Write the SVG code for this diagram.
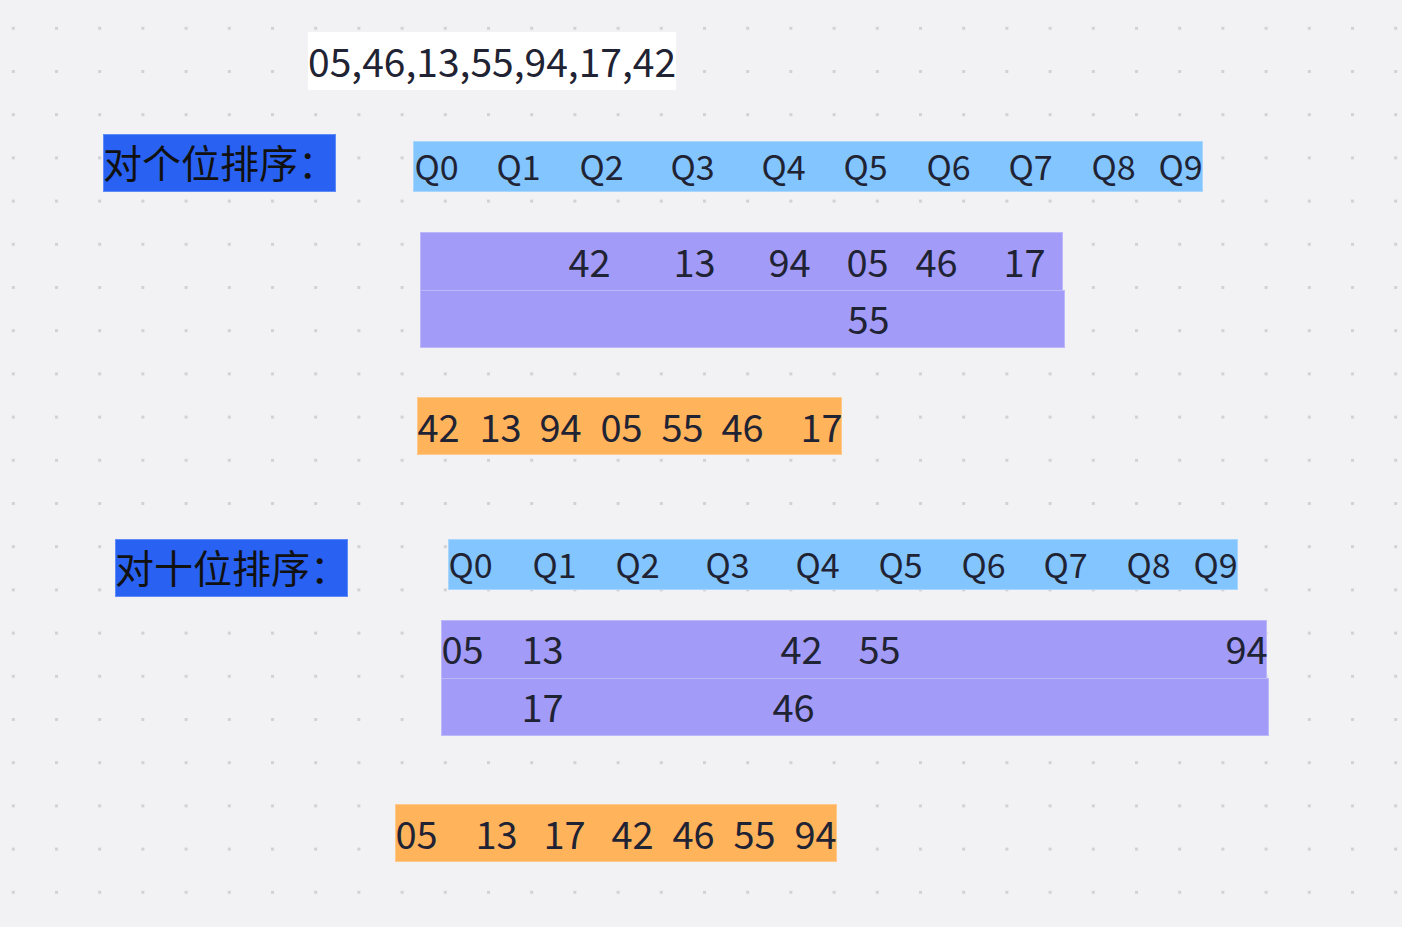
<svg xmlns="http://www.w3.org/2000/svg" width="1402" height="927" viewBox="0 0 1402 927">
<defs>
<pattern id="dots" x="11.8" y="26.8" width="43.2" height="43.2" patternUnits="userSpaceOnUse">
<rect x="0" y="0" width="3" height="3" fill="#d2d2d6"/>
</pattern>
</defs>
<style>
text{font-family:"Noto Sans CJK SC","Noto Sans",sans-serif;fill:#1f2333}
.lbl{fill:#2962f2;stroke:#5e8cf6;stroke-width:1}
.lbl-t{font-size:39px;fill:#111}
.q{fill:#83c5ff;stroke:#a9d6ff;stroke-width:1}
.q-t{font-size:34px}
.p{fill:#a29bf8;stroke:#bdb8fa;stroke-width:1}
.o{fill:#ffb35b;stroke:#ffc98a;stroke-width:1}
.n{font-size:38px}
</style>
<rect width="1402" height="927" fill="#f2f2f5"/>
<rect width="1402" height="927" fill="url(#dots)"/>

<g id="input">
<rect x="308" y="32" width="368" height="58" fill="#ffffff"/>
<text x="308" y="77" font-size="39">05,46,13,55,94,17,42</text>
</g>

<g id="label-ones">
<rect class="lbl" x="103.5" y="134.5" width="232" height="57"/>
<text class="lbl-t" x="103" y="178">对个位排序：</text>
</g>

<g id="buckets-ones">
<rect class="q" x="413.5" y="141.5" width="789" height="50"/>
<g class="q-t">
<text x="414.5" y="180">Q0</text><text x="496.5" y="180">Q1</text><text x="579.5" y="180">Q2</text><text x="670.5" y="180">Q3</text><text x="761.5" y="180">Q4</text>
<text x="843.5" y="180">Q5</text><text x="926.5" y="180">Q6</text><text x="1008.5" y="180">Q7</text><text x="1091.5" y="180">Q8</text><text x="1158.5" y="180">Q9</text>
</g>
</g>

<g id="contents-ones">
<rect class="p" x="420.5" y="232.5" width="642" height="58"/>
<rect class="p" x="420.5" y="290.5" width="644" height="57"/>
<g class="n">
<text x="568.5" y="277">42</text><text x="673.5" y="277">13</text><text x="768.5" y="277">94</text><text x="846.5" y="277">05</text><text x="915.5" y="277">46</text><text x="1003.5" y="277">17</text>
<text x="847.5" y="334">55</text>
</g>
</g>

<g id="result-ones">
<rect class="o" x="417.5" y="397.5" width="424" height="57"/>
<g class="n">
<text x="417.5" y="442">42</text><text x="479.5" y="442">13</text><text x="539.5" y="442">94</text><text x="600.5" y="442">05</text><text x="661.5" y="442">55</text><text x="721.5" y="442">46</text><text x="800.5" y="442">17</text>
</g>
</g>

<g id="label-tens">
<rect class="lbl" x="115.5" y="539.5" width="232" height="57"/>
<text class="lbl-t" x="115" y="583">对十位排序：</text>
</g>

<g id="buckets-tens">
<rect class="q" x="448.5" y="539.5" width="789" height="50"/>
<g class="q-t">
<text x="448.5" y="578">Q0</text><text x="532.5" y="578">Q1</text><text x="615.5" y="578">Q2</text><text x="705.5" y="578">Q3</text><text x="795.5" y="578">Q4</text>
<text x="878.5" y="578">Q5</text><text x="961.5" y="578">Q6</text><text x="1043.5" y="578">Q7</text><text x="1126.5" y="578">Q8</text><text x="1193.5" y="578">Q9</text>
</g>
</g>

<g id="contents-tens">
<rect class="p" x="441.5" y="620.5" width="825" height="58"/>
<rect class="p" x="441.5" y="678.5" width="827" height="57"/>
<g class="n">
<text x="441.5" y="664">05</text><text x="521.5" y="664">13</text><text x="780.5" y="664">42</text><text x="858.5" y="664">55</text><text x="1225.5" y="664">94</text>
<text x="521.5" y="722">17</text><text x="772.5" y="722">46</text>
</g>
</g>

<g id="result-tens">
<rect class="o" x="395.5" y="804.5" width="441" height="57"/>
<g class="n">
<text x="395.5" y="849">05</text><text x="475.5" y="849">13</text><text x="543.5" y="849">17</text><text x="611.5" y="849">42</text><text x="672.5" y="849">46</text><text x="733.5" y="849">55</text><text x="794.5" y="849">94</text>
</g>
</g>
</svg>
